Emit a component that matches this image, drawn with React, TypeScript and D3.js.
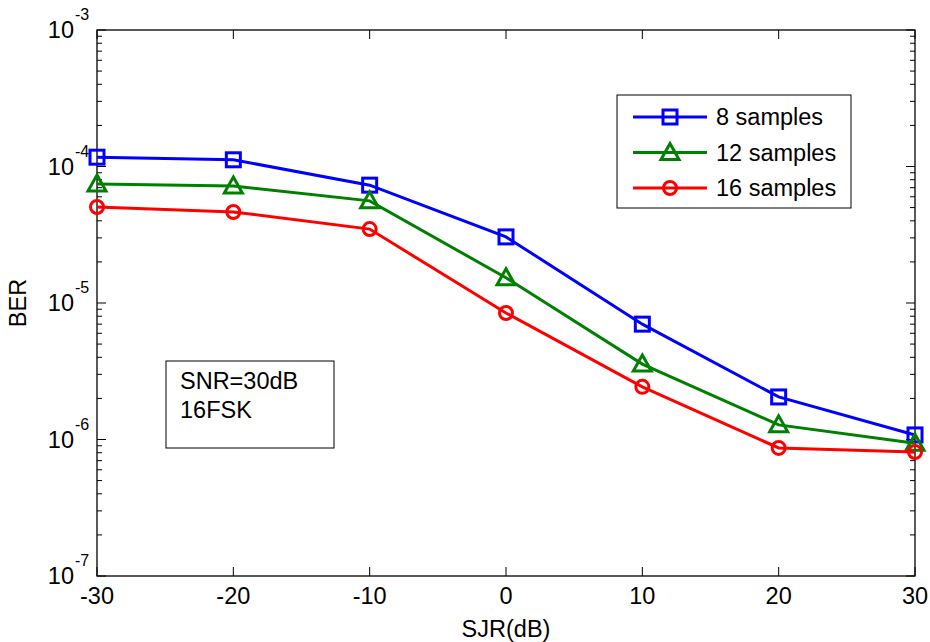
import React from "react";
import * as d3 from "d3";

const sjr = [-30, -20, -10, 0, 10, 20, 30];
const ber8 = [1.17e-4, 1.12e-4, 7.3e-5, 3.05e-5, 7.0e-6, 2.05e-6, 1.08e-6];
const ber12 = [7.45e-5, 7.2e-5, 5.6e-5, 1.53e-5, 3.57e-6, 1.28e-6, 9.4e-7];
const ber16 = [5.05e-5, 4.64e-5, 3.48e-5, 8.45e-6, 2.43e-6, 8.67e-7, 8.1e-7];
const seriesNames = ["8 samples", "12 samples", "16 samples"];
const seriesColors = ["#0000ff", "#008000", "#ff0000"];
const seriesMarkers = ["square", "triangle", "circle"];
const xTicks = [-30, -20, -10, 0, 10, 20, 30];
const yExponents = [-7, -6, -5, -4, -3];
const annotation = ["SNR=30dB", "16FSK"];

const W = 930, H = 642;
const L = 97, R = 915, T = 30, B = 576;
const FONT = "'Liberation Sans', Arial, sans-serif";
const FS = 23.5;

function Marker({ type, x, y, color }: { type: string; x: number; y: number; color: string }) {
  if (type === "square") {
    return <rect x={x - 7} y={y - 7} width={14} height={14} fill="none" stroke={color} strokeWidth={3} />;
  }
  if (type === "triangle") {
    const s = 8;
    return (
      <path
        d={`M${x},${y - s - 1} L${x + s + 1},${y + s - 1} L${x - s - 1},${y + s - 1} Z`}
        fill="none"
        stroke={color}
        strokeWidth={3}
        strokeLinejoin="miter"
      />
    );
  }
  return <circle cx={x} cy={y} r={6.5} fill="none" stroke={color} strokeWidth={3} />;
}

export default function App() {
  const x = d3.scaleLinear().domain([-30, 30]).range([L, R]);
  const y = d3.scaleLog().domain([1e-7, 1e-3]).range([B, T]);
  const line = d3
    .line<number>()
    .x((_, i) => x(sjr[i]))
    .y((d) => y(d));
  const data = [ber8, ber12, ber16];

  const minor: number[] = [];
  for (let e = -7; e < -3; e++) {
    for (let m = 2; m <= 9; m++) minor.push(m * Math.pow(10, e));
  }

  return (
    <svg width={W} height={H} style={{ position: "absolute", left: 0, top: 0, background: "#fff" }} fontFamily={FONT}>
      <rect x={0} y={0} width={W} height={H} fill="#fff" />
      {xTicks.map((t) => (
        <g key={"xt" + t}>
          <line x1={x(t)} x2={x(t)} y1={B} y2={B - 9} stroke="#000" strokeWidth={1} />
          <line x1={x(t)} x2={x(t)} y1={T} y2={T + 9} stroke="#000" strokeWidth={1} />
          <text x={x(t)} y={B + 28} fontSize={FS} textAnchor="middle" fill="#000">
            {t}
          </text>
        </g>
      ))}
      {yExponents.map((e) => {
        const yy = y(Math.pow(10, e));
        return (
          <g key={"ye" + e}>
            <line x1={L} x2={L + 9} y1={yy} y2={yy} stroke="#000" strokeWidth={1} />
            <line x1={R} x2={R - 9} y1={yy} y2={yy} stroke="#000" strokeWidth={1} />
            <text x={74} y={yy + 8} fontSize={FS} textAnchor="end" fill="#000">
              10
            </text>
            <text x={75} y={yy - 10} fontSize={16} textAnchor="start" fill="#000">
              {e}
            </text>
          </g>
        );
      })}
      {minor.map((v, i) => (
        <g key={"mn" + i}>
          <line x1={L} x2={L + 5} y1={y(v)} y2={y(v)} stroke="#000" strokeWidth={1} />
          <line x1={R} x2={R - 5} y1={y(v)} y2={y(v)} stroke="#000" strokeWidth={1} />
        </g>
      ))}
      <rect x={L} y={T} width={R - L} height={B - T} fill="none" stroke="#000" strokeWidth={1.3} />
      {data.map((d, si) => (
        <g key={"s" + si}>
          <path d={line(d) || ""} fill="none" stroke={seriesColors[si]} strokeWidth={3} />
          {d.map((v, i) => (
            <Marker key={i} type={seriesMarkers[si]} x={x(sjr[i])} y={y(v)} color={seriesColors[si]} />
          ))}
        </g>
      ))}
      <rect x={617} y={95} width={234} height={113} fill="#fff" stroke="#000" strokeWidth={1} />
      {seriesNames.map((n, i) => {
        const ly = 117 + i * 35.5;
        return (
          <g key={"lg" + i}>
            <line x1={633} x2={707} y1={ly} y2={ly} stroke={seriesColors[i]} strokeWidth={3} />
            <Marker type={seriesMarkers[i]} x={670} y={ly} color={seriesColors[i]} />
            <text x={716} y={ly + 8} fontSize={FS} fill="#000">
              {n}
            </text>
          </g>
        );
      })}
      <rect x={166} y={361} width={168} height={87} fill="#fff" stroke="#000" strokeWidth={1} />
      {annotation.map((s, i) => (
        <text key={"an" + i} x={180} y={389 + i * 29} fontSize={FS} fill="#000">
          {s}
        </text>
      ))}
      <text x={(L + R) / 2} y={637} fontSize={FS} textAnchor="middle" fill="#000">
        SJR(dB)
      </text>
      <text
        x={0}
        y={0}
        fontSize={FS}
        textAnchor="middle"
        fill="#000"
        transform={`translate(26,${(T + B) / 2}) rotate(-90)`}
      >
        BER
      </text>
    </svg>
  );
}
